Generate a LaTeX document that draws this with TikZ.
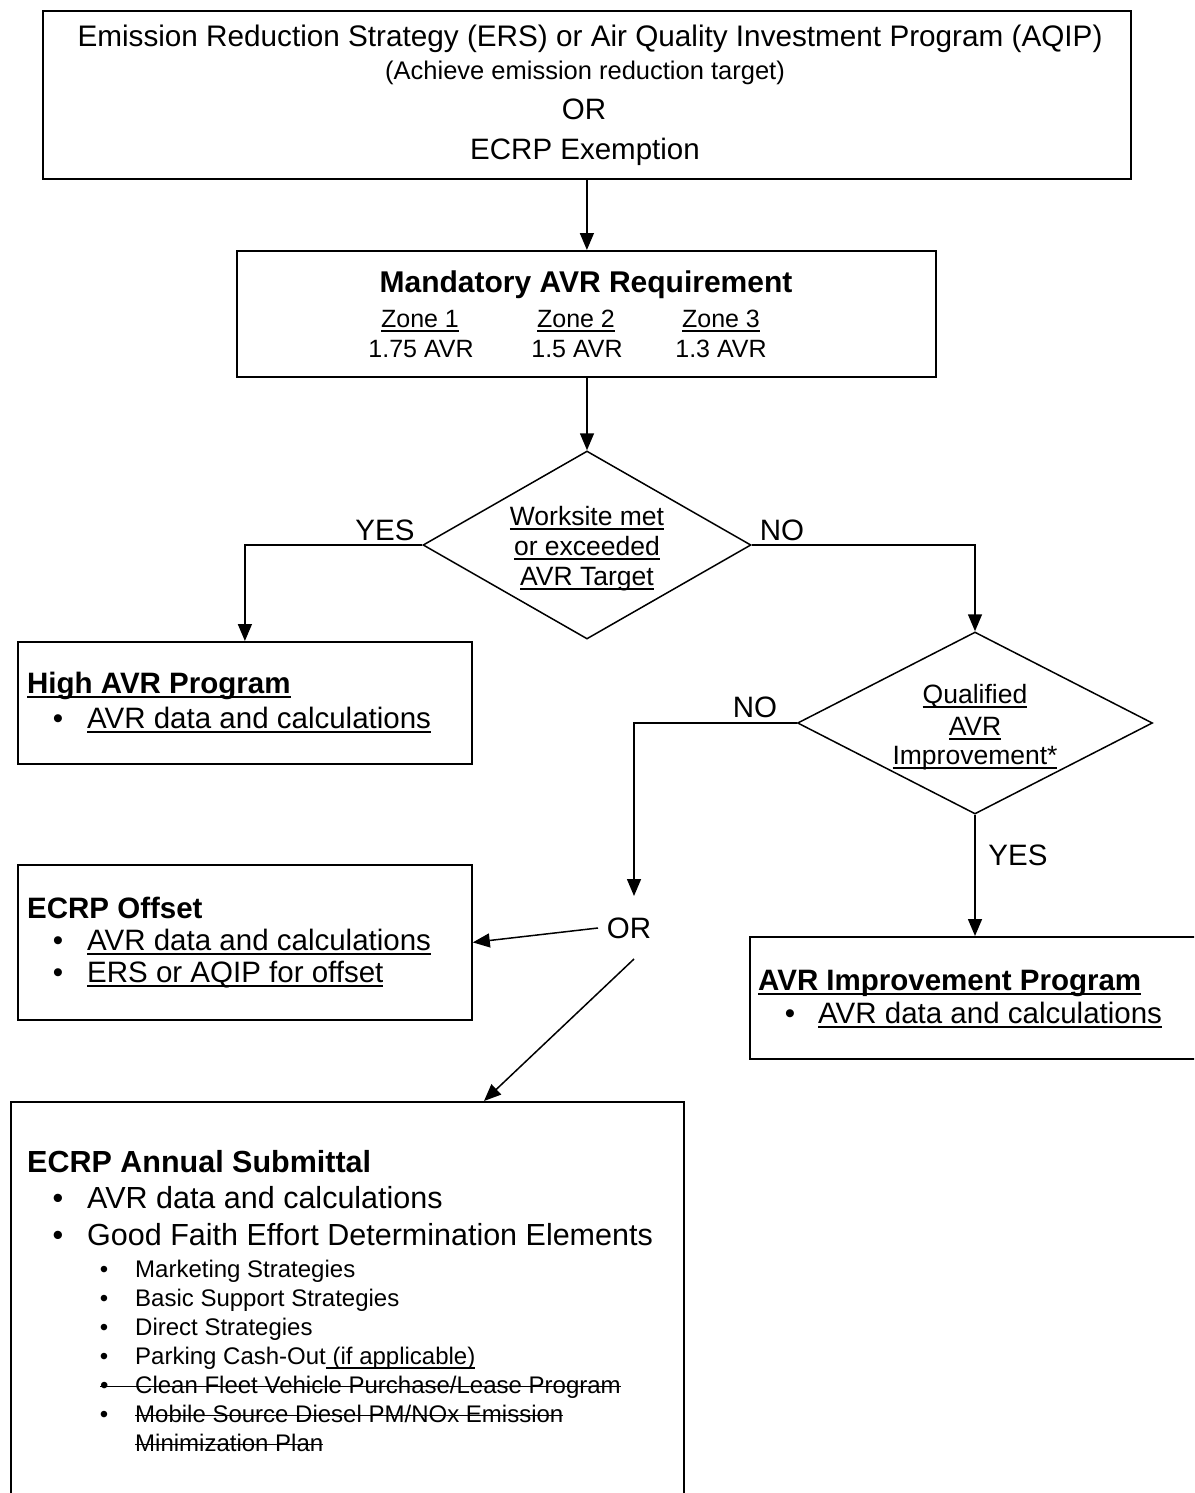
\documentclass[tikz,border=0pt]{standalone}
\usepackage{fontspec}
\setmainfont{Liberation Sans}
\usetikzlibrary{shapes.geometric,arrows.meta,calc}
\newcommand\fsz[1]{\fontsize{#1}{#1}\selectfont}
\newcommand\ulx[1]{\setbox0\hbox{#1}\rlap{\rule[-5pt]{\wd0}{2pt}}\box0}
\newcommand\stk[1]{\setbox0\hbox{#1}\rlap{\rule[5.6pt]{\wd0}{1.8pt}}\box0}
\begin{document}
\begin{tikzpicture}[x=1pt,y=-1pt,
  box/.style={draw,rectangle,line width=1.8pt,inner sep=0,anchor=north west},
  dia/.style={draw,diamond,line width=1.5pt,inner sep=0},
  conn/.style={line width=1.5pt,-{Triangle[length=17pt,width=14pt]}},
  tc/.style={inner sep=0,anchor=base,font=\fsz{29.5}},
  tl/.style={inner sep=0,anchor=base west,font=\fsz{29.5}},
  sb/.style={inner sep=0,anchor=base,font=\fsz{24}},
  st/.style={inner sep=0,anchor=base west,font=\fsz{24}},
]
\clip (0,0) rectangle (1194,1493);
\fill[white] (0,0) rectangle (1194,1493);

% top box
\node[box,minimum width=1088pt,minimum height=168pt] (topbox) at (42,10) {};
\node[tc,font=\fsz{29.7}] (t1) at (590,47) {Emission Reduction Strategy (ERS) or Air Quality Investment Program (AQIP)};
\node[tc,font=\fsz{25.5}] (t2) at (585,80) {(Achieve emission reduction target)};
\node[tc] (t3) at (584,120) {OR};
\node[tc] (t4) at (585,160) {ECRP Exemption};

% mandatory
\node[box,minimum width=699pt,minimum height=126pt] (mand) at (236,250) {};
\node[tc,font=\fsz{30}\bfseries] (m1) at (586,292) {Mandatory AVR Requirement};
\node[tc,font=\fsz{25}] (z1) at (420,327) {\ulx{Zone 1}};
\node[tc,font=\fsz{25}] (z2) at (576,327) {\ulx{Zone 2}};
\node[tc,font=\fsz{25}] (z3) at (721,327) {\ulx{Zone 3}};
\node[tc,font=\fsz{25}] (v1) at (421,357) {1.75 AVR};
\node[tc,font=\fsz{25}] (v2) at (577,357) {1.5 AVR};
\node[tc,font=\fsz{25}] (v3) at (721,357) {1.3 AVR};

% diamond 1
\node[dia,minimum width=328pt,minimum height=188pt] (d1) at (587,545) {};
\node[tc,font=\fsz{26.5}] (d1a) at (587,525) {\ulx{Worksite met}};
\node[tc,font=\fsz{26.5}] (d1b) at (587,555) {\ulx{or exceeded}};
\node[tc,font=\fsz{26.5}] (d1c) at (587,585) {\ulx{AVR Target}};
\node[tc] (yes1) at (385,540) {YES};
\node[tc] (no1) at (782,540) {NO};

% high AVR
\node[box,minimum width=454pt,minimum height=122pt] (hiavr) at (17,641) {};
\node[tl,font=\fsz{29.5}\bfseries] (h1) at (27,693) {\ulx{High AVR Program}};
\node[tc] (hb) at (58,728) {\textbullet};
\node[tl] (h2) at (87,728) {\ulx{AVR data and calculations}};

% diamond 2
\node[dia,minimum width=355pt,minimum height=182pt] (d2) at (975,723) {};
\node[tc,font=\fsz{26.5}] (d2a) at (975,703) {\ulx{Qualified}};
\node[tc,font=\fsz{26.5}] (d2b) at (975,735) {\ulx{AVR}};
\node[tc,font=\fsz{26.5}] (d2c) at (975,764) {\ulx{Improvement*}};
\node[tc] (no2) at (755,717) {NO};
\node[tc] (yes2) at (1018,865) {YES};

% OR
\node[tc] (or) at (629,938) {OR};
\coordinate (ortop) at (634,896);
\coordinate (orleft) at (598,928);
\coordinate (orbot) at (634,959);

% offset
\node[box,minimum width=454pt,minimum height=155pt] (offset) at (17,864) {};
\node[tl,font=\fsz{29.5}\bfseries] (o1) at (27,918) {ECRP Offset};
\node[tc] (ob1) at (58,950) {\textbullet};
\node[tl] (o2) at (87,950) {\ulx{AVR data and calculations}};
\node[tc] (ob2) at (58,982) {\textbullet};
\node[tl] (o3) at (87,982) {\ulx{ERS or AQIP for offset}};

% improvement
\node[box,minimum width=480pt,minimum height=122pt] (imp) at (749,936) {};
\node[tl,font=\fsz{29.5}\bfseries] (i1) at (758,990) {\ulx{AVR Improvement Program}};
\node[tc] (ib) at (790,1023) {\textbullet};
\node[tl] (i2) at (818,1023) {\ulx{AVR data and calculations}};

% annual
\node[box,minimum width=673pt,minimum height=450pt] (annual) at (10,1101) {};
\path (annual.north west) ++(474,0) coordinate (annin);
\node[tl,font=\fsz{30.5}\bfseries] (a1) at (27,1172) {ECRP Annual Submittal};
\node[tc,font=\fsz{30.5}] (ab1) at (58,1208) {\textbullet};
\node[tl,font=\fsz{30.5}] (a2) at (87,1208) {AVR data and calculations};
\node[tc,font=\fsz{30.5}] (ab2) at (58,1245) {\textbullet};
\node[tl,font=\fsz{30.5}] (a3) at (87,1245) {Good Faith Effort Determination Elements};
\node[sb] (sb1) at (104,1277) {\textbullet};
\node[st] (s1) at (135,1277) {Marketing Strategies};
\node[sb] (sb2) at (104,1306) {\textbullet};
\node[st] (s2) at (135,1306) {Basic Support Strategies};
\node[sb] (sb3) at (104,1335) {\textbullet};
\node[st] (s3) at (135,1335) {Direct Strategies};
\node[sb] (sb4) at (104,1364) {\textbullet};
\node[st] (s4) at (135,1364) {Parking Cash-Out\ulx{\ (if applicable)}};
\node[st] (s5) at (99.8,1393) {\stk{\hbox to 35.2pt{\textbullet\hfil}Clean Fleet Vehicle Purchase/Lease Program}};
\node[sb] (sb6) at (104,1422) {\textbullet};
\node[st] (s6) at (135,1422) {\stk{Mobile Source Diesel PM/NOx Emission}};
\node[st] (s7) at (135,1451) {\stk{Minimization Plan}};

% connectors
\draw[conn] (topbox.south) -- (topbox.south |- mand.north);
\draw[conn] (mand.south -| d1.north) -- (d1.north);
\draw[conn] (d1.west) -| (hiavr.north);
\draw[conn] (d1.east) -| (d2.north);
\draw[conn] (d2.west) -| (ortop);
\draw[conn] (d2.south) -- (d2.south |- imp.north);
\draw[conn] (orleft) -- (offset.east);
\draw[conn] (orbot) -- (annin);
\end{tikzpicture}
\end{document}
